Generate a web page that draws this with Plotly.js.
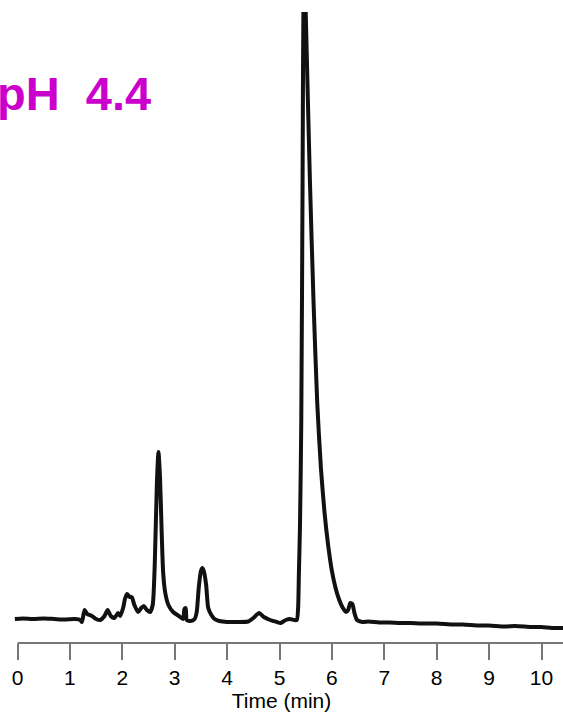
<!DOCTYPE html>
<html>
<head>
<meta charset="utf-8">
<script src="https://cdn.plot.ly/plotly-3.0.1.min.js"></script>
<style>html,body{margin:0;padding:0;background:#fff;}#chart{width:563px;height:712px;}</style>
</head>
<body>
<div id="chart"></div>
<script>
// Retention time (min)
const timeMin = [
  -0.05, 0.1, 0.3, 0.5, 0.7, 0.9, 1.1, 1.2, 1.23, 1.28, 1.33, 1.42, 1.5, 1.58, 1.66, 1.72, 1.78, 1.85, 1.92, 1.96,
  2.02, 2.05, 2.09, 2.14, 2.18, 2.23, 2.3, 2.36, 2.41, 2.47, 2.53, 2.58, 2.62, 2.66, 2.69, 2.72, 2.75, 2.78, 2.82, 2.88,
  2.97, 3.08, 3.16, 3.185, 3.21, 3.23, 3.3, 3.38, 3.42, 3.46, 3.5, 3.53, 3.56, 3.6, 3.64, 3.7, 3.76, 3.85, 4.0, 4.2,
  4.4, 4.5, 4.61, 4.7, 4.82, 4.95, 5.02, 5.12, 5.2, 5.28, 5.33, 5.355, 5.37, 5.39, 5.415, 5.44, 5.465, 5.5, 5.58, 5.65,
  5.72, 5.79, 5.86, 5.93, 6.0, 6.07, 6.14, 6.21, 6.27, 6.31, 6.35, 6.39, 6.43, 6.48, 6.58, 6.7, 6.9, 7.1,
  7.3, 7.5, 7.7, 8.0, 8.3, 8.5, 8.8, 9.0, 9.3, 9.5, 9.8, 10.0, 10.2, 10.42
];
// Detector signal (arbitrary units)
const signal = [
  24, 24.5, 24, 24.5, 24, 23.5, 24, 23, 21, 33, 29, 27, 24, 23, 27, 33, 27, 25, 30, 27,
  36, 44, 49, 46, 46, 38, 31, 35, 37, 33, 31, 38, 80, 160, 191, 165, 113, 70, 50, 38,
  31, 27, 24, 34, 35, 23, 22, 24, 31, 56, 72, 75, 71, 58, 35, 28, 24, 22, 21, 21,
  21.5, 25, 30, 26, 23, 21, 20, 23, 24, 23, 23, 35, 70, 115, 220, 460, 700, 631, 463, 340,
  240, 175, 130, 97, 72, 55, 43, 35, 31, 33, 40, 39, 30, 23, 21, 21.5, 20.5, 20.5,
  20, 20, 19.5, 19.5, 18.5, 18.5, 17.5, 17.5, 16.5, 17, 16, 16, 15, 15
];
const tickValues = [0, 1, 2, 3, 4, 5, 6, 7, 8, 9, 10];
const tickLabels = ["0", "1", "2", "3", "4", "5", "6", "7", "8", "9", "10"];

const trace = {
  x: timeMin, y: signal, type: 'scatter', mode: 'lines',
  line: {color: '#111111', width: 4, shape: 'spline', smoothing: 0.6},
  hoverinfo: 'skip', showlegend: false
};

const layout = {
  width: 563, height: 712,
  margin: {l: 0, r: 0, t: 12, b: 69},
  paper_bgcolor: '#ffffff', plot_bgcolor: '#ffffff',
  showlegend: false,
  font: {family: 'Liberation Sans, Arial, sans-serif', color: '#000'},
  xaxis: {
    range: [-0.334, 10.41], showgrid: false, zeroline: false, showline: false,
    ticks: 'outside', ticklen: 16, tickwidth: 2, tickcolor: '#777777',
    tickvals: tickValues, ticktext: tickLabels,
    tickfont: {size: 21, color: '#000'},
    title: {text: 'Time (min)', font: {size: 21, color: '#000'}, standoff: 1}
  },
  yaxis: {visible: false, range: [0, 631], fixedrange: true},
  shapes: [{
    type: 'line', xref: 'x', yref: 'paper', x0: 0, x1: 10.41, y0: 0, y1: 0,
    line: {color: '#777777', width: 2}
  }],
  annotations: [{
    text: 'pH\u00A0\u00A04.4', xref: 'paper', yref: 'paper', x: 153 / 563, y: (643 - 93) / 631,
    xanchor: 'right', yanchor: 'middle', showarrow: false,
    font: {size: 47, color: '#CC00CC', weight: 'bold', family: 'Liberation Sans, Arial, sans-serif'}
  }]
};

Plotly.newPlot('chart', [trace], layout, {displayModeBar: false, staticPlot: true});
</script>
</body>
</html>
